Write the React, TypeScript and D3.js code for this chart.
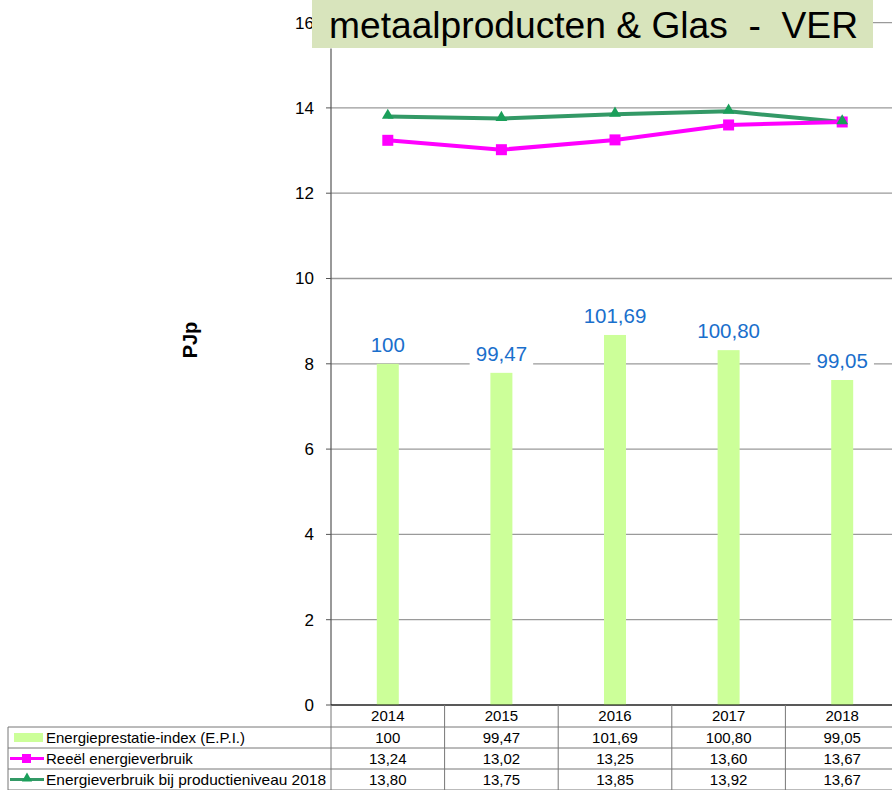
import React from "react";
import * as d3 from "d3";

const years = ["2014", "2015", "2016", "2017", "2018"];
const epi = [100, 99.47, 101.69, 100.8, 99.05];
const reeel = [13.24, 13.02, 13.25, 13.6, 13.67];
const prodNiveau = [13.8, 13.75, 13.85, 13.92, 13.67];
const yTicks = [0, 2, 4, 6, 8, 10, 12, 14, 16];
const seriesNames = [
  "Energieprestatie-index (E.P.I.)",
  "Reeël energieverbruik",
  "Energieverbruik bij productieniveau 2018",
];
const title = "metaalproducten & Glas  -  VER";
const yLabel = "PJp";

const fmt = (v: number, dec: number) => {
  if (dec === 0 && Number.isInteger(v)) return String(v);
  return v.toFixed(2).replace(".", ",");
};

export default function App() {
  const W = 892, H = 790;
  const left = 331, right = 899, top = 22.6, bottom = 705;
  const x = d3.scaleBand<string>().domain(years).range([left, right]).padding(0);
  const y = d3.scaleLinear().domain([0, 16]).range([bottom, top]);
  const y2 = d3.scaleLinear().domain([80, 120]).range([bottom, top]);
  const bw = 22;
  const cx = (d: string) => (x(d) as number) + x.bandwidth() / 2;
  const line = d3.line<number>().x((_, i) => cx(years[i])).y((v) => y(v));
  const pink = "#ff00ff";
  const green = "#339966";
  const greenMarker = "#1a9f5a";
  const barColor = "#ccff99";
  const font = "Liberation Sans, Arial, sans-serif";
  const rowTops = [705, 727, 748, 769, 790];
  const tri = d3.symbol().type(d3.symbolTriangle).size(60)();
  return (
    <svg width={W} height={H} style={{ position: "absolute", left: 0, top: 0, background: "#fff" }} fontFamily={font}>
      {/* gridlines */}
      {yTicks.map((t) => (
        <line key={"g" + t} x1={left} x2={W} y1={y(t)} y2={y(t)} stroke="#9a9a9a" strokeWidth={1.3} />
      ))}
      {/* tick labels */}
      {yTicks.map((t) => (
        <g key={"t" + t}>
          <line x1={left - 5} x2={left} y1={y(t)} y2={y(t)} stroke="#555" strokeWidth={1} />
          <text x={314} y={y(t)} dy="0.35em" textAnchor="end" fontSize={17} fill="#000">{t}</text>
        </g>
      ))}
      {/* bars */}
      {epi.map((v, i) => (
        <rect key={"b" + i} x={cx(years[i]) - bw / 2} y={y2(v)} width={bw} height={bottom - y2(v)} fill={barColor} />
      ))}
      {/* bar labels */}
      {epi.map((v, i) => {
        const s = fmt(v, i === 0 ? 0 : 2);
        const w = s.length * 11.5 + 6;
        const yy = y2(v) - 19;
        return (
          <g key={"l" + i}>
            <rect x={cx(years[i]) - w / 2} y={yy - 13} width={w} height={26} fill="#fff" />
            <text x={cx(years[i])} y={yy} dy="0.35em" textAnchor="middle" fontSize={20.5} fill="#1a6fcc">{s}</text>
          </g>
        );
      })}
      {/* lines */}
      <path d={line(prodNiveau) || ""} fill="none" stroke={green} strokeWidth={4} />
      <path d={line(reeel) || ""} fill="none" stroke={pink} strokeWidth={4} />
      {reeel.map((v, i) => (
        <rect key={"s" + i} x={cx(years[i]) - 5.5} y={y(v) - 5.5} width={11} height={11} fill={pink} />
      ))}
      {prodNiveau.map((v, i) => (
        <path key={"tr" + i} d={tri || ""} transform={`translate(${cx(years[i])},${y(v) - 1})`} fill={greenMarker} />
      ))}
      {/* axis line */}
      <line x1={left} x2={left} y1={top + 26} y2={bottom} stroke="#555" strokeWidth={1.2} />
      {/* title box */}
      <rect x={312} y={-2} width={561} height={50} fill="#d8e4bc" />
      <text x={329} y={38} fontSize={37} fill="#000" textLength={529} lengthAdjust="spacingAndGlyphs" style={{ whiteSpace: "pre" }}>{title}</text>
      {/* y label */}
      <text transform={`translate(197,340) rotate(-90)`} textAnchor="middle" fontSize={20} fontWeight="bold" fill="#000">{yLabel}</text>
      {/* table */}
      <line x1={left} x2={W} y1={bottom} y2={bottom} stroke="#000" strokeWidth={1.2} />
      {rowTops.slice(1).map((ry, k) => (
        <line key={"r" + k} x1={8} x2={W} y1={ry} y2={ry} stroke="#777" strokeWidth={1} />
      ))}
      <line x1={8} x2={8} y1={727} y2={790} stroke="#777" strokeWidth={1} />
      {years.map((yr, i) => (
        <line key={"c" + i} x1={(x(yr) as number)} x2={(x(yr) as number)} y1={705} y2={790} stroke="#777" strokeWidth={1} />
      ))}
      {years.map((yr, i) => (
        <g key={"col" + i} fontSize={15} fill="#000" textAnchor="middle">
          <text x={cx(yr)} y={716} dy="0.35em">{yr}</text>
          <text x={cx(yr)} y={737.5} dy="0.35em">{fmt(epi[i], i === 0 ? 0 : 2)}</text>
          <text x={cx(yr)} y={758.5} dy="0.35em">{fmt(reeel[i], 2)}</text>
          <text x={cx(yr)} y={779.5} dy="0.35em">{fmt(prodNiveau[i], 2)}</text>
        </g>
      ))}
      {/* legend keys */}
      <rect x={14} y={733} width={29} height={9} fill={barColor} />
      <line x1={10} x2={44} y1={758.5} y2={758.5} stroke={pink} strokeWidth={3} />
      <rect x={22} y={754} width={9} height={9} fill={pink} />
      <line x1={10} x2={44} y1={779.5} y2={779.5} stroke={green} strokeWidth={3} />
      <path d={d3.symbol().type(d3.symbolTriangle).size(45)() || ""} transform="translate(27,778.5)" fill={greenMarker} />
      <g fontSize={15} fill="#000">
        <text x={46} y={737.5} dy="0.35em">{seriesNames[0]}</text>
        <text x={46} y={758.5} dy="0.35em">{seriesNames[1]}</text>
        <text x={46} y={779.5} dy="0.35em" textLength={280} lengthAdjust="spacingAndGlyphs">{seriesNames[2]}</text>
      </g>
    </svg>
  );
}
